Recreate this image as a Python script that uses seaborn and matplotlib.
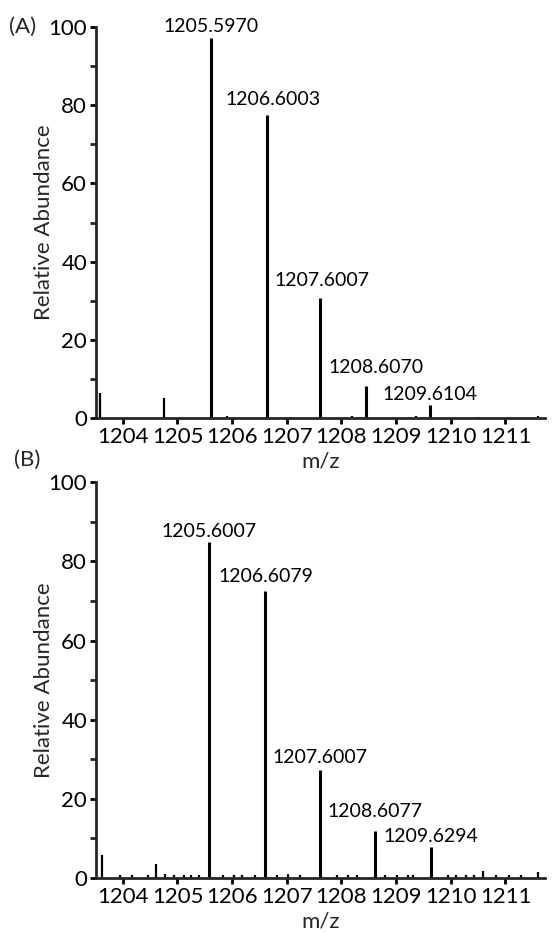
import matplotlib
matplotlib.use("Agg")
import matplotlib.pyplot as plt
import seaborn as sns
from matplotlib.ticker import MultipleLocator

# panel A: labelled isotope peaks
peaks_a_mz = [1205.61, 1206.64, 1207.61, 1208.45, 1209.62]
peaks_a_int = [97.2, 77.5, 30.8, 8.3, 3.3]
peaks_a_label = ["1205.5970", "1206.6003", "1207.6007", "1208.6070", "1209.6104"]
# panel A: other signals
other_a_mz = [1203.59, 1204.76, 1205.91, 1207.06, 1208.19, 1209.37, 1210.50, 1211.59]
other_a_int = [6.5, 5.1, 0.4, 0.3, 0.5, 0.5, 0.3, 0.4]

# panel B: labelled isotope peaks
peaks_b_mz = [1205.58, 1206.60, 1207.61, 1208.62, 1209.63]
peaks_b_int = [84.9, 72.6, 27.3, 11.9, 7.7]
peaks_b_label = ["1205.6007", "1206.6079", "1207.6007", "1208.6077", "1209.6294"]
# panel B: other signals
other_b_mz = [1203.62, 1204.61, 1203.95, 1204.17, 1204.46, 1204.78, 1204.93, 1205.11,
              1205.24, 1205.39, 1205.84, 1206.03, 1206.18, 1206.42, 1206.82, 1207.03,
              1207.24, 1207.91, 1208.12, 1208.28, 1208.80, 1209.01, 1209.22, 1209.31,
              1209.95, 1210.10, 1210.28, 1210.43, 1210.59, 1210.83, 1211.07, 1211.29,
              1211.59]
other_b_int = [5.8, 3.6, 0.7, 0.8, 0.7, 0.9, 0.7, 0.8,
               0.7, 0.7, 0.8, 0.7, 0.8, 0.8, 0.8, 0.9,
               0.8, 0.8, 0.8, 0.7, 0.7, 0.8, 0.8, 0.8,
               0.7, 0.8, 0.8, 0.8, 1.8, 0.8, 0.8, 0.8,
               1.5]

x_ticks = [1204, 1205, 1206, 1207, 1208, 1209, 1210, 1211]

# label offsets in points (dx, dy above peak top)
offsets_a = [(0, 4), (4, 7), (1, 8), (7, 9), (0, 4)]
offsets_b = [(0, 4), (1, 6.5), (0, 5), (0, 10), (0, 4)]

sns.set_theme(style="ticks")
plt.rcParams["font.family"] = ["Lato", "DejaVu Sans"]
plt.rcParams["axes.linewidth"] = 2.0
plt.rcParams["xtick.major.width"] = 2.0
plt.rcParams["ytick.major.width"] = 2.0
plt.rcParams["ytick.minor.width"] = 2.0
plt.rcParams["xtick.major.size"] = 4.5
plt.rcParams["ytick.major.size"] = 4.5
plt.rcParams["ytick.minor.size"] = 4.5


def draw_panel(ax, pk_mz, pk_int, pk_lab, ot_mz, ot_int, offsets):
    ax.vlines(ot_mz, 0, ot_int, color="black", linewidth=1.6)
    ax.vlines(pk_mz, 0, pk_int, color="black", linewidth=2.2)
    for x, y, lab, (dx, dy) in zip(pk_mz, pk_int, pk_lab, offsets):
        ax.annotate(lab, (x, y), xytext=(dx, dy), textcoords="offset points",
                    ha="center", va="baseline", fontsize=14, color="black")
    ax.set_xlim(1203.51, 1211.72)
    ax.set_ylim(0, 100)
    ax.set_xticks(x_ticks)
    ax.yaxis.set_major_locator(MultipleLocator(20))
    ax.yaxis.set_minor_locator(MultipleLocator(10))
    ax.tick_params(axis="both", labelsize=16, colors="black", pad=2)
    ax.set_xlabel("m/z", fontsize=16, labelpad=3)
    ax.set_ylabel("Relative Abundance", fontsize=16)
    ax.yaxis.set_label_coords(-0.094, 0.5)
    sns.despine(ax=ax)


fig = plt.figure(figsize=(5.52, 9.33), dpi=100)
ax_a = fig.add_axes([0.174, 0.552, 0.813, 0.419])
ax_b = fig.add_axes([0.174, 0.059, 0.813, 0.424])

draw_panel(ax_a, peaks_a_mz, peaks_a_int, peaks_a_label, other_a_mz, other_a_int, offsets_a)
draw_panel(ax_b, peaks_b_mz, peaks_b_int, peaks_b_label, other_b_mz, other_b_int, offsets_b)

fig.text(0.016, 0.971, "(A)", fontsize=16, va="center", ha="left")
fig.text(0.025, 0.507, "(B)", fontsize=16, va="center", ha="left")

fig.savefig("out.png", dpi=100, facecolor="white")
